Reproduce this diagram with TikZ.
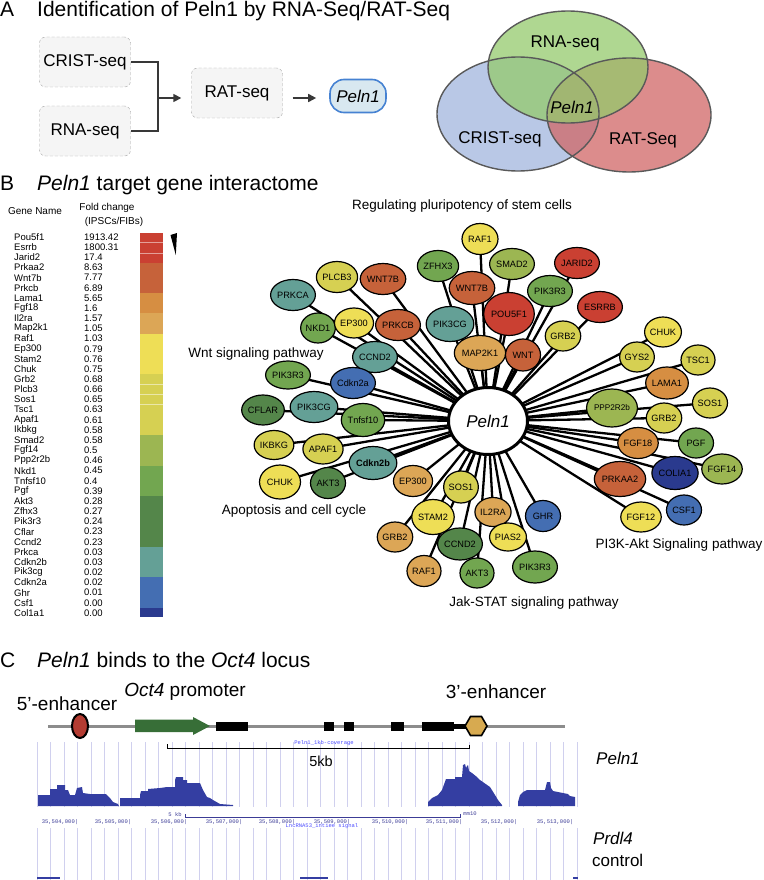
\documentclass[tikz,border=0pt]{standalone}
\usepackage{fontspec}
\setmainfont{Liberation Sans}
\setmonofont{Liberation Mono}
\usetikzlibrary{shapes.geometric,arrows.meta,backgrounds}
\newcommand\fsz[1]{\fontsize{#1}{#1}\selectfont}
\definecolor{cRed}{RGB}{202,64,50}
\definecolor{cOrRed}{RGB}{198,98,58}
\definecolor{cOrange}{RGB}{214,142,66}
\definecolor{cLtOr}{RGB}{220,166,86}
\definecolor{cYel}{RGB}{238,222,86}
\definecolor{cYG}{RGB}{214,208,82}
\definecolor{cGY}{RGB}{156,182,82}
\definecolor{cGrn}{RGB}{114,166,80}
\definecolor{cDkG}{RGB}{84,134,74}
\definecolor{cTeal}{RGB}{100,160,150}
\definecolor{cBlue}{RGB}{68,110,178}
\definecolor{cNavy}{RGB}{42,58,142}
\definecolor{vBlue}{RGB}{162,182,222}
\definecolor{vRed}{RGB}{208,102,102}
\definecolor{vGreen}{RGB}{148,202,108}
\definecolor{cov}{RGB}{52,62,162}
\definecolor{gridc}{RGB}{208,208,238}
\definecolor{axc}{RGB}{60,60,150}
\definecolor{pillb}{RGB}{70,130,210}
\definecolor{pillf}{RGB}{216,232,240}
\definecolor{oct}{RGB}{55,110,55}
\definecolor{hexc}{RGB}{215,170,80}
\definecolor{enh}{RGB}{180,60,50}
\begin{document}
\begin{tikzpicture}[x=1pt,y=-1pt,
  title/.style={anchor=base west, font=\fsz{21}, inner sep=0pt},
  sbox/.style={draw=black!35, dash pattern=on 3pt off 2pt, fill=black!4, rounded corners=6pt,
    minimum width=91pt, minimum height=50pt, font=\fsz{17}},
  arr/.style={-{Triangle[length=8pt,width=8pt]}, line width=1.6pt, draw=black!78},
  conn/.style={line width=1.6pt, draw=black!78},
  gn/.style={ellipse, draw=black, line width=1.2pt, inner sep=0pt, font=\fsz{9.2}},
  edge/.style={line width=2.3pt, draw=black},
  path/.style={font=\fsz{13.5}},
  vlab/.style={font=\fsz{17}},
  gl/.style={anchor=west, font=\fsz{9.5}, inner sep=0pt},
  grid/.style={draw=gridc, line width=0.6pt},
  tiny/.style={font=\ttfamily\fsz{5.5}, text=axc, inner sep=0pt}
]
\useasboundingbox (0,0) rectangle (763,880);

% ---------------- A ----------------
\node[title] (tA) at (0,17) {A};
\node[title] (tAt) at (37,17) {Identification of Peln1 by RNA-Seq/RAT-Seq};
\node[sbox] (crist) at (85,62) {CRIST-seq};
\node[sbox] (rna) at (85,131) {RNA-seq};
\node[sbox] (rat) at (237,93) {RAT-seq};
\node[draw=pillb, line width=1.6pt, fill=pillf, rounded corners=14pt, minimum width=56pt,
  minimum height=33pt, font=\fsz{17}\itshape] (pill) at (358,96) {Peln1};
\coordinate (j) at (158,98);
\draw[conn] (crist.east) -- (crist.east -| j) -- (rna.east -| j) -- (rna.east);
\draw[arr, shorten >=10pt] (j) -- (rat.west |- j);
\draw[arr, shorten <=10pt, shorten >=13pt] (rat.east |- j) -- (pill.west |- j);

% Venn
\fill[vBlue, fill opacity=0.75] (518,114) ellipse [x radius=81pt, y radius=57pt];
\fill[vRed, fill opacity=0.75] (629,115) ellipse [x radius=82pt, y radius=57pt];
\fill[vGreen, fill opacity=0.75] (568,67) ellipse [x radius=80pt, y radius=56pt];
\draw[black!65, line width=1.4pt] (518,114) ellipse [x radius=81pt, y radius=57pt];
\draw[black!65, line width=1.4pt] (629,115) ellipse [x radius=82pt, y radius=57pt];
\draw[black!65, line width=1.4pt] (568,67) ellipse [x radius=80pt, y radius=56pt];
\node[vlab] (vr) at (565,43) {RNA-seq};
\node[vlab, font=\fsz{17}\itshape] (vp) at (572,107) {Peln1};
\node[vlab] (vc) at (500,139) {CRIST-seq};
\node[vlab] (vt) at (643,140) {RAT-Seq};

% ---------------- B ----------------
\node[title] (tB) at (0,190) {B};
\node[title] (tBt) at (37,190) {\textit{Peln1} target gene interactome};
\node[font=\fsz{10}] (hg) at (35,211) {Gene Name};
\node[font=\fsz{10}] (hf) at (107,208) {Fold change};
\node[font=\fsz{10}] (hi) at (114,222) {(IPSCs/FIBs)};
\foreach \g/\v [count=\i from 0] in {Pou5f1/1913.42, Esrrb/1800.31, Jarid2/17.4, Prkaa2/8.63,
  Wnt7b/7.77, Prkcb/6.89, Lama1/5.65, Fgf18/1.6, Il2ra/1.57, Map2k1/1.05, Raf1/1.03, Ep300/0.79,
  Stam2/0.76, Chuk/0.75, Grb2/0.68, Plcb3/0.66, Sos1/0.65, Tsc1/0.63, Apaf1/0.61, Ikbkg/0.58,
  Smad2/0.58, Fgf14/0.5, Ppp2r2b/0.46, Nkd1/0.45, Tnfsf10/0.4, Pgf/0.39, Akt3/0.28, Zfhx3/0.27,
  Pik3r3/0.24, Cflar/0.23, Ccnd2/0.23, Prkca/0.03, Cdkn2b/0.03, Pik3cg/0.02, Cdkn2a/0.02,
  Ghr/0.01, Csf1/0.00, Col1a1/0.00} {
  \node[gl] (g\i) at (14,{237+10.16*\i}) {\g};
  \node[gl] (v\i) at (84,{237+10.16*\i}) {\v};
}
% colour bar
\fill[cRed] (140,232.5) rectangle (163,263);
\fill[cOrRed] (140,263) rectangle (163,293);
\fill[cOrange] (140,293) rectangle (163,313.3);
\fill[cLtOr] (140,313.3) rectangle (163,333.6);
\fill[cYel] (140,333.6) rectangle (163,374.2);
\fill[cYG] (140,374.2) rectangle (163,435.2);
\fill[cGY] (140,435.2) rectangle (163,465.7);
\fill[cGrn] (140,465.7) rectangle (163,496.2);
\fill[cDkG] (140,496.2) rectangle (163,547);
\fill[cTeal] (140,547) rectangle (163,577.4);
\fill[cBlue] (140,577.4) rectangle (163,607.9);
\fill[cNavy] (140,607.9) rectangle (163,617);
\foreach \yy in {242.7,252.8,384.4,394.5,404.7} \draw[white, opacity=0.5, line width=0.5pt] (140,\yy) -- (163,\yy);
\fill[black] (170.5,235) -- (177,233) -- (175.8,255) -- cycle;

% pathway labels
\node[path] (p1) at (462,206) {Regulating pluripotency of stem cells};
\node[path] (p2) at (256,354) {Wnt signaling pathway};
\node[path] (p3) at (294,511) {Apoptosis and cell cycle};
\node[path] (p4) at (534,603) {Jak-STAT signaling pathway};
\node[path] (p5) at (679,545) {PI3K-Akt Signaling pathway};

% network
\node[ellipse, draw=black, line width=3pt, fill=white, minimum width=79pt, minimum height=67pt,
  font=\fsz{17}\itshape] (peln) at (488,421) {Peln1};
\foreach \n/\x/\y/\c/\t/\w/\h in {
 n1/480/239/cYel/RAF1/36/31, n2/438/266/cGrn/ZFHX3/37/31, n3/337/277/cYG/PLCB3/37/31,
 n4/383/279/cOrRed/WNT7B/37/31, n5/293/295/cTeal/PRKCA/37/31, n6/472/288/cOrRed/WNT7B/38/33,
 n7/318/328/cGrn/NKD1/34/30, n8/354/323/cYel/EP300/34/30, n9/398/325/cOrRed/PRKCB/34/31,
 n10/450/324/cTeal/PIK3CG/38/35, n11/375/357/cTeal/CCND2/36/31, n12/480/353/cLtOr/MAP2K1/38/35,
 n13/288/375/cGrn/PIK3R3/33/28, n14/353/383/cBlue/Cdkn2a/38/31, n15/263/410/cDkG/CFLAR/34/30,
 n16/314/407/cTeal/PIK3CG/37/31, n17/363/420/cGrn/Tnfsf10/38/33, n18/512/264/cGY/SMAD2/37/31,
 n19/577/263/cRed/JARID2/36/31, n20/550/291/cGrn/PIK3R3/36/31, n21/509/314/cRed/POU5F1/47/43,
 n22/600/307/cRed/ESRRB/37/31, n23/563/336/cYG/GRB2/34/30, n24/523/355/cOrRed/WNT/35/32,
 n25/663/332/cYel/CHUK/34/30, n26/637/357/cYG/GYS2/34/30, n27/698/360/cYG/TSC1/34/30,
 n28/667/383/cOrange/LAMA1/36/32, n29/612/408/cGY/{\fsz{8.2}PPP2R2b}/44/38, n30/710/403/cYG/SOS1/35/30,
 n31/664/418/cYG/GRB2/34/30, n32/638/443/cOrange/FGF18/36/31, n33/696/443/cGrn/PGF/35/30,
 n34/675/473/cNavy/COLIA1/37/33, n35/722/469/cGY/FGF14/35/30, n36/620/479/cOrRed/PRKAA2/40/35,
 n37/684/510/cBlue/CSF1/35/30, n38/641/517/cYel/FGF12/35/30, n39/543/516/cBlue/GHR/35/31,
 n40/493/512/cLtOr/IL2RA/35/29, n41/508/537/cYel/PIAS2/32/28, n42/535/567/cGrn/PIK3R3/36/32,
 n43/477/573/cGrn/AKT3/34/30, n44/274/445/cYG/IKBKG/34/29, n45/323/449/cYG/APAF1/34/30,
 n46/373/463/cTeal/{\textbf{Cdkn2b}}/38/33, n47/280/482/cYel/CHUK/41/34, n48/328/483/cDkG/AKT3/35/31,
 n49/413/481/cLtOr/EP300/35/31, n50/461/487/cYG/SOS1/33/32, n51/433/517/cYel/STAM2/36/35,
 n52/395/537/cLtOr/GRB2/34/30, n53/460/544/cDkG/CCND2/35/32, n54/424/571/cLtOr/RAF1/34/31} {
  \node[gn, fill=\c, minimum width=\w pt, minimum height=\h pt] (\n) at (\x,\y) {\t};
}
\begin{pgfonlayer}{background}
\foreach \i in {1,...,54} \draw[edge] (peln.center) -- (n\i.center);
\end{pgfonlayer}

% ---------------- C ----------------
\node[title] (tC) at (0,667) {C};
\node[title] (tCt) at (37,667) {\textit{Peln1} binds to the \textit{Oct4} locus};
\node[font=\fsz{19}] (e5) at (67,704) {5’-enhancer};
\node[font=\fsz{19}] (op) at (185,692) {\textit{Oct4} promoter};
\node[font=\fsz{19}] (e3) at (496,692) {3’-enhancer};

\draw[black!45, line width=3pt] (48,726) -- (565,726);
\fill[black] (216,722) rectangle (248,731);
\fill[black] (324,722) rectangle (334,731);
\fill[black] (344,722) rectangle (354,731);
\fill[black] (391,722) rectangle (404,731);
\fill[black] (422,721.5) rectangle (454,731);
\fill[black] (454,723.5) rectangle (466,728.5);
\fill[oct] (135,719.5) -- (193,719.5) -- (193,717) -- (210,726) -- (193,735) -- (193,732) -- (135,732) -- cycle;
\draw[fill=enh, line width=2pt] (80,726) ellipse [x radius=8pt, y radius=12pt];
\draw[fill=hexc, line width=1.6pt] (465,726) -- (470.5,716.5) -- (481.5,716.5) -- (487,726) -- (481.5,735.5) -- (470.5,735.5) -- cycle;

% tracks grid
\foreach \k in {0,...,40} {
  \draw[grid] ({37+13.5*\k},742) -- ({37+13.5*\k},807);
  \draw[grid] ({37+13.5*\k},828) -- ({37+13.5*\k},880);
}
% scale bar
\draw[black, line width=0.9pt] (167,744) -- (167,748.5) -- (469,748.5) -- (469,745);
\node[tiny, text=blue!70] (cv) at (324,743) {Peln1\_1kb-coverage};
\node[font=\fsz{14.5}] (kb) at (321,761) {5kb};

% coverage
\fill[cov] (38,806) -- (38,795) -- (50,795) -- (50,789) -- (57,789) -- (57,785) -- (65,785) -- (65,790) -- (68,790) -- (70,795) -- (75,795) -- (77,788) -- (82,787) -- (83,793) -- (90,794) -- (106,794) -- (110,798) -- (113,802) -- (118,804) -- (119,806) -- cycle;
\fill[cov] (120,806) -- (120,798) -- (140,798) -- (140,795) -- (141,791) -- (148,791) -- (148,789) -- (160,788) -- (167,787) -- (175,787) -- (175,780) -- (176,777) -- (183,777) -- (183,780) -- (187,780) -- (187,783) -- (200,783) -- (203,790) -- (207,797) -- (210,798) -- (213,800) -- (220,804) -- (233,805) -- (233,806) -- cycle;
\fill[cov] (428,806) -- (428,802) -- (432,798) -- (438,795) -- (442,790) -- (446,779) -- (455,779) -- (455,777) -- (462,777) -- (463,765) -- (465,764) -- (466,768) -- (467,766) -- (468,765) -- (469,771) -- (472,773) -- (477,777) -- (480,780) -- (490,787) -- (495,795) -- (498,800) -- (502,805) -- (502,806) -- cycle;
\fill[cov] (518,806) -- (518,802) -- (520,795) -- (523,792) -- (527,790) -- (545,790) -- (546,786) -- (547,782) -- (550,782) -- (551,788) -- (553,791) -- (568,794) -- (570,796) -- (575,797) -- (575,806) -- cycle;

% genome axis
\node[tiny] (k5) at (175,815) {5 kb};
\draw[axc, line width=0.5pt] (185,814) -- (185,817) -- (460,817) -- (460,814);
\node[tiny] (mm) at (470,814) {mm10};
\foreach \xx/\lab in {60/504, 113/505, 169/506, 224/507, 277/508, 332/509, 390/510, 444/511, 499/512, 555/513}
  \node[tiny] at (\xx,822) {35,\lab,000|};
\node[tiny, text=blue!70] (ln) at (322,826) {LncRNA53\_intiee signal};
\draw[cov, line width=1.2pt] (37,878) -- (60,878);
\draw[cov, line width=1.2pt] (300,878) -- (328,878);
\draw[cov, line width=1.2pt] (573,878) -- (578,878);

\node[anchor=west, font=\fsz{17}\itshape, inner sep=0pt] (lp) at (596,758) {Peln1};
\node[anchor=west, font=\fsz{17}\itshape, inner sep=0pt] (lq) at (593,838) {Prdl4};
\node[anchor=west, font=\fsz{17}, inner sep=0pt] (lc) at (592,860) {control};
\end{tikzpicture}
\end{document}
